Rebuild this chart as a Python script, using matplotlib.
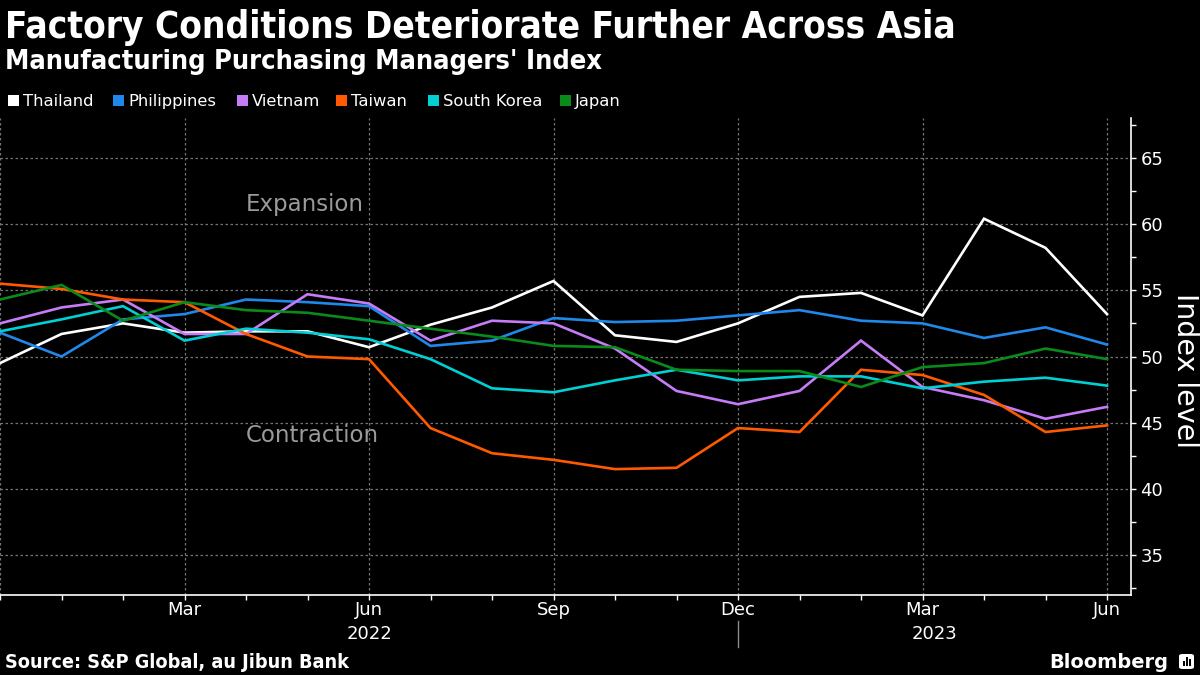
import matplotlib
matplotlib.use("Agg")
import matplotlib.pyplot as plt
import matplotlib.transforms as mtransforms
from matplotlib import font_manager as fm
from matplotlib.lines import Line2D
from matplotlib.patches import FancyBboxPatch, Rectangle
import numpy as np

# ---------------- data ----------------
months = ["Dec 2021", "Jan 2022", "Feb 2022", "Mar 2022", "Apr 2022", "May 2022", "Jun 2022",
          "Jul 2022", "Aug 2022", "Sep 2022", "Oct 2022", "Nov 2022", "Dec 2022",
          "Jan 2023", "Feb 2023", "Mar 2023", "Apr 2023", "May 2023", "Jun 2023"]

thailand = [49.5, 51.7, 52.5, 51.8, 51.9, 51.9, 50.7, 52.4, 53.7, 55.7, 51.6, 51.1, 52.5,
            54.5, 54.8, 53.1, 60.4, 58.2, 53.2]
philippines = [51.8, 50.0, 52.8, 53.2, 54.3, 54.1, 53.8, 50.8, 51.2, 52.9, 52.6, 52.7, 53.1,
               53.5, 52.7, 52.5, 51.4, 52.2, 50.9]
vietnam = [52.5, 53.7, 54.3, 51.7, 51.7, 54.7, 54.0, 51.2, 52.7, 52.5, 50.6, 47.4, 46.4,
           47.4, 51.2, 47.7, 46.7, 45.3, 46.2]
taiwan = [55.5, 55.1, 54.3, 54.1, 51.7, 50.0, 49.8, 44.6, 42.7, 42.2, 41.5, 41.6, 44.6,
          44.3, 49.0, 48.6, 47.1, 44.3, 44.8]
south_korea = [51.9, 52.8, 53.8, 51.2, 52.1, 51.8, 51.3, 49.8, 47.6, 47.3, 48.2, 49.0, 48.2,
               48.5, 48.5, 47.6, 48.1, 48.4, 47.8]
japan = [54.3, 55.4, 52.7, 54.1, 53.5, 53.3, 52.7, 52.1, 51.5, 50.8, 50.7, 49.0, 48.9,
         48.9, 47.7, 49.2, 49.5, 50.6, 49.8]

series_names = ["Thailand", "Philippines", "Vietnam", "Taiwan", "South Korea", "Japan"]
series_values = [thailand, philippines, vietnam, taiwan, south_korea, japan]
series_colors = ["#ffffff", "#1f88ea", "#c77cf7", "#ff5a00", "#00cfd3", "#0a8a1a"]

quarter_tick_pos = [0, 3, 6, 9, 12, 15, 18]
quarter_tick_labels = ["", "Mar", "Jun", "Sep", "Dec", "Mar", "Jun"]
year_labels = ["2022", "2023"]
year_label_pos = [6, 15.2]
y_ticks = [35, 40, 45, 50, 55, 60, 65]

title = "Factory Conditions Deteriorate Further Across Asia"
subtitle = "Manufacturing Purchasing Managers' Index"
source = "Source: S&P Global, au Jibun Bank"

# ---------------- fonts ----------------
entries = fm.fontManager.ttflist
have_dejavu_cond = any(e.name == "DejaVu Sans" and "condensed" in str(e.stretch) and e.weight in (700, "bold") for e in entries)
have_lib_narrow = any(e.name == "Liberation Sans Narrow" for e in entries)
if have_dejavu_cond:
    head_font = dict(family="DejaVu Sans", fontstretch="condensed", fontweight="bold")
elif have_lib_narrow:
    head_font = dict(family="Liberation Sans Narrow", fontweight="bold")
else:
    head_font = dict(family="DejaVu Sans", fontweight="bold")

plt.rcParams["font.family"] = ["DejaVu Sans"]

W, H = 1200, 675
fig = plt.figure(figsize=(12, 6.75), dpi=100, facecolor="black")

ax_left, ax_right_px, ax_top_px, ax_bot_px = 0, 1131, 118, 595
ax = fig.add_axes([ax_left / W, 1 - ax_bot_px / H, (ax_right_px - ax_left) / W,
                   (ax_bot_px - ax_top_px) / H])
ax.set_facecolor("black")

x = np.arange(len(months))
for name, vals, col in zip(series_names, series_values, series_colors):
    ax.plot(x, vals, color=col, lw=1.9, label=name, solid_joinstyle="miter", zorder=3)

ax.set_xlim(0, 18.39)
ax.set_ylim(32, 68)

# y axis on right
ax.yaxis.tick_right()
ax.set_yticks(y_ticks)
ax.set_yticks(np.arange(32.5, 68, 5), minor=True)
ax.tick_params(axis="y", which="major", colors="white", labelsize=13, length=3.8, width=1, pad=3, direction="out")
ax.tick_params(axis="y", which="minor", colors="white", length=3.5, width=1, direction="out")

# x axis
ax.set_xticks(quarter_tick_pos)
ax.set_xticklabels(quarter_tick_labels)
ax.set_xticks(x, minor=True)
ax.tick_params(axis="x", which="major", colors="white", labelsize=13, length=3.6, width=1, pad=0.8)
ax.tick_params(axis="x", which="minor", colors="white", length=3.6, width=1)

for s in ["top", "left"]:
    ax.spines[s].set_visible(False)
for s in ["right", "bottom"]:
    ax.spines[s].set_color("white")
    ax.spines[s].set_linewidth(1.2)

ax.grid(True, which="major", color="#747474", linestyle=(0, (2, 2)), linewidth=0.9, zorder=0)
ax.set_axisbelow(True)

# annotations
ax.text(4.0, 61.5, "Expansion", color="#9a9a9a", fontsize=16.5, va="center", ha="left")
ax.text(4.0, 44.0, "Contraction", color="#9a9a9a", fontsize=16.5, va="center", ha="left")

# year labels + separator
trans = mtransforms.blended_transform_factory(ax.transData, ax.transAxes)
for lbl, pos in zip(year_labels, year_label_pos):
    ax.text(pos, -(634 - ax_bot_px) / (ax_bot_px - ax_top_px), lbl, transform=trans,
            color="white", fontsize=13, ha="center", va="center")
ax.add_line(Line2D([12, 12], [-(621 - ax_bot_px) / (ax_bot_px - ax_top_px),
                              -(647 - ax_bot_px) / (ax_bot_px - ax_top_px)],
                   transform=trans, color="#8a8a8a", lw=1, clip_on=False))

# Index level label
fig.text(1185 / W, 1 - 371 / H, "Index level", rotation=270, color="white", fontsize=20.5,
         ha="center", va="center")

# legend (manual row)
legend_px = [8, 113, 237, 336, 428, 560]
for px, name, col in zip(legend_px, series_names, series_colors):
    fig.patches.append(Rectangle((px / W, 1 - 106 / H), 11 / W, 11 / H, transform=fig.transFigure,
                                 facecolor=col, edgecolor="none"))
    fig.text((px + 15) / W, 1 - 106 / H, name, color="white", fontsize=11.8,
             va="baseline", ha="left")

# titles and footer
t1 = fig.text(5 / W, 1 - 38 / H, title, color="white", fontsize=30, va="baseline", ha="left", **head_font)
t2 = fig.text(5 / W, 1 - 69 / H, subtitle, color="white", fontsize=20, va="baseline", ha="left", **head_font)
t3 = fig.text(5 / W, 1 - 668 / H, source, color="white", fontsize=13, va="baseline", ha="left", **head_font)
t4 = fig.text(1168 / W, 1 - 668 / H, "Bloomberg", color="white", fontsize=16, va="baseline", ha="right",
              family="DejaVu Sans", fontweight="bold")

fig.canvas.draw()
r = fig.canvas.get_renderer()
for t, target in [(t1, 950), (t2, 600), (t3, 344), (t4, 119)]:
    w = t.get_window_extent(r).width
    t.set_fontsize(t.get_fontsize() * target / w)

# Bloomberg icon
icon = FancyBboxPatch((1179 / W, 1 - 669 / H), 15 / W, 15 / H, boxstyle="round,pad=0,rounding_size=0.003",
                      transform=fig.transFigure, facecolor="white", edgecolor="none")
fig.patches.append(icon)
for bx, bh in [(1183, 5), (1186, 9), (1189, 7)]:
    fig.patches.append(Rectangle((bx / W, 1 - 666 / H), 1.6 / W, bh / H, transform=fig.transFigure,
                                 facecolor="black", edgecolor="none"))

fig.savefig("out.png", dpi=100, facecolor="black")
